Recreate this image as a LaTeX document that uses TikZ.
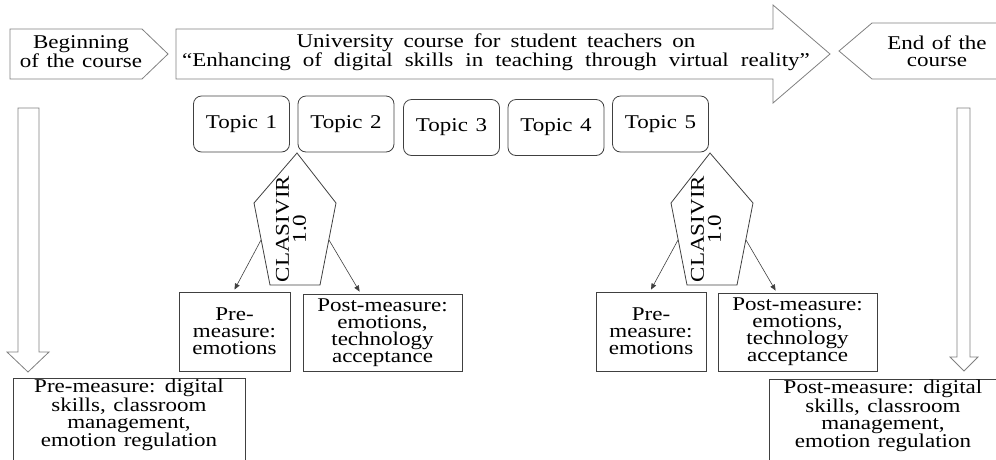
\documentclass[tikz,border=0pt]{standalone}
\usepackage{fontspec}
\setmainfont{Liberation Serif}[FakeStretch=1.18, WordSpace=1.3]
\usetikzlibrary{arrows.meta,positioning}
\definecolor{outgray}{HTML}{808080}
\definecolor{boxgray}{HTML}{404040}

\begin{document}
\begin{tikzpicture}[x=1pt, y=-1pt,
    every node/.style={font=\fontsize{19.5}{17}\selectfont, align=center, inner sep=0pt},
    shapeline/.style={draw=outgray, line width=0.8pt},
    darkline/.style={draw=boxgray, line width=0.8pt},
    topicbox/.style={darkline, rounded corners=8pt, minimum width=96pt, minimum height=56pt},
    measbox/.style={darkline, minimum height=78pt},
    link/.style={-{Triangle[length=6pt,width=5pt]}, draw=boxgray, line width=0.6pt}]
    \useasboundingbox (0,0) rectangle (996,459);
    \clip (0,0) rectangle (996,459);

    % start, course, end
    \draw[shapeline] (10,29) -- (142,29) -- (168,54) -- (142,79) -- (10,79) -- cycle;
    \node (begin) at (81,52) {Beginning\\of the course};

    \draw[shapeline] (176,29) -- (773,29) -- (773,5) -- (830,54) -- (773,103) -- (773,79) -- (176,79) -- cycle;
    \node (course) at (496,52) {{\spaceskip=10pt University course for student teachers on}\\{\spaceskip=12pt ``Enhancing of digital skills in teaching through virtual reality''}};

    \draw[shapeline] (1000,23) -- (872,23) -- (839,51) -- (872,79) -- (1000,79);
    \node (end) at (937,51) {End of the\\course};

    % topics
    \node[topicbox] (topic1) at (241.5,124) {Topic 1};
    \node[topicbox] (topic2) at (346,124) {Topic 2};
    \node[topicbox] (topic3) at (451.5,127.5) {Topic 3};
    \node[topicbox] (topic4) at (556,127.5) {Topic 4};
    \node[topicbox] (topic5) at (660.5,124) {Topic 5};

    % questionnaires
    \draw[darkline] (297,153) -- (336,203) -- (320,285) -- (270,285) -- (254,203) -- cycle;
    \node[rotate=90] (clasA) at (291,229) {CLASIVIR\\1.0};
    \coordinate (clasAl) at (261,240);
    \coordinate (clasAr) at (329,240);

    \draw[darkline] (710,153) -- (753,203) -- (737,285) -- (687,285) -- (671,203) -- cycle;
    \node[rotate=90] (clasB) at (706,229) {CLASIVIR\\1.0};
    \coordinate (clasBl) at (678,240);
    \coordinate (clasBr) at (746,240);

    \node[measbox, minimum width=111pt, minimum height=79pt] (preA) at (234.5,331.5) {Pre-\\measure:\\emotions};
    \node[measbox, minimum width=159pt, minimum height=77pt] (postA) at (382.5,332.5) {Post-measure:\\emotions,\\technology\\acceptance};
    \node[measbox, minimum width=110pt, minimum height=79pt] (preB) at (651,331.5) {Pre-\\measure:\\emotions};
    \node[measbox, minimum width=159pt, minimum height=78pt] (postB) at (797.5,332) {Post-measure:\\emotions,\\technology\\acceptance};

    \draw[link] (clasAl) -- ([yshift=2pt]preA.north);
    \draw[link] (clasAr) -- ([xshift=57pt,yshift=2pt]postA.north west);
    \draw[link] (clasBl) -- ([yshift=2pt]preB.north);
    \draw[link] (clasBr) -- ([xshift=58pt,yshift=2pt]postB.north west);

    % down arrows and course measures
    \draw[shapeline] (18,108) -- (39,108) -- (39,352) -- (49,352) -- (28,372) -- (7,352) -- (18,352) -- cycle;
    \draw[shapeline] (957,108) -- (970,108) -- (970,357) -- (978,357) -- (964,371) -- (950,357) -- (957,357) -- cycle;

    \draw[darkline] (13,470) -- (13,378) -- (245,378) -- (245,470);
    \node (premeas) at (129,415) {Pre-measure: digital\\skills, classroom\\management,\\emotion regulation};

    \draw[darkline] (769,470) -- (769,379) -- (1000,379);
    \node (postmeas) at (883,416) {Post-measure: digital\\skills, classroom\\management,\\emotion regulation};
\end{tikzpicture}
\end{document}
